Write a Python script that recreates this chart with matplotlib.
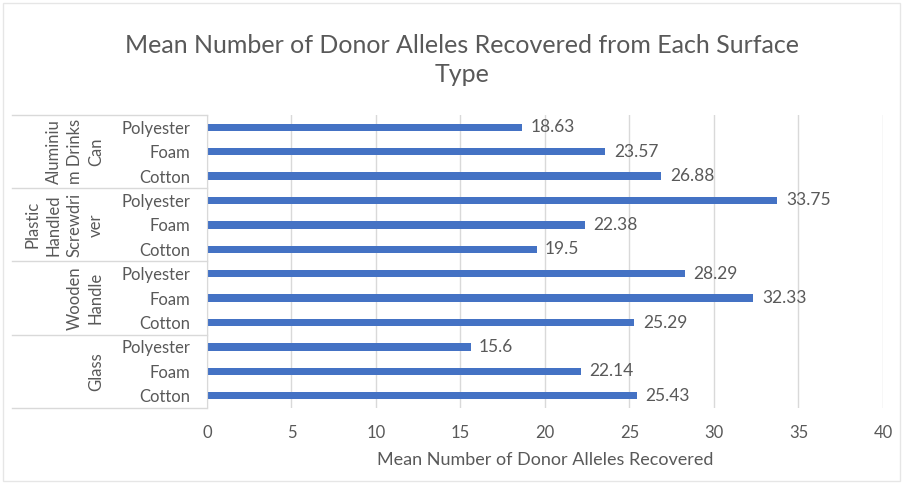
import numpy as np
import matplotlib.pyplot as plt
from matplotlib.transforms import blended_transform_factory

plt.rcParams['font.family'] = ['Lato', 'DejaVu Sans']

# bottom-to-top order, as drawn
groups = ['Glass', 'Wooden\nHandle', 'Plastic\nHandled\nScrewdri\nver', 'Aluminiu\nm Drinks\nCan']
materials = ['Cotton', 'Foam', 'Polyester']
values = [25.43, 22.14, 15.6,
          25.29, 32.33, 28.29,
          19.5, 22.38, 33.75,
          26.88, 23.57, 18.63]
tick_labels = materials * len(groups)

grey = '#595959'
fig = plt.figure(figsize=(9.03, 4.84), dpi=100)
ax = fig.add_axes([207/903, 1-408/484, (883-207)/903, (408-115)/484])

y = np.arange(len(values))
ax.barh(y, values, height=0.3, color='#4472C4')
for yi, v in zip(y, values):
    ax.text(v + 0.5, yi, f'{v:g}', va='center', ha='left', fontsize=12.5, color=grey)

ax.set_xlim(0, 40)
ax.set_ylim(-0.5, len(values) - 0.5)
ax.set_xticks(np.arange(0, 45, 5))
ax.set_yticks(y)
ax.set_yticklabels(tick_labels)
ax.tick_params(axis='both', length=0, labelsize=12, labelcolor=grey)
ax.tick_params(axis='y', pad=12)
ax.tick_params(axis='x', pad=12)
ax.xaxis.grid(True, color='#d9d9d9', linewidth=1)
ax.set_axisbelow(True)
for s in ['top', 'right', 'bottom']:
    ax.spines[s].set_visible(False)
ax.spines['left'].set_color('#d9d9d9')
ax.set_xlabel('Mean Number of Donor Alleles Recovered', fontsize=13, color=grey, labelpad=8)

# group boxes on the left
tr = blended_transform_factory(fig.transFigure, ax.transData)
x0, x1 = 12/903, 207/903
for b in np.arange(-0.5, len(values), 3):
    ax.plot([x0, x1], [b, b], transform=tr, color='#d9d9d9', lw=1, clip_on=False)
for i, g in enumerate(groups):
    ax.text(104/903, i*3 + 1, g, transform=tr, rotation=90, ha='right', va='center',
            multialignment='center', fontsize=12, color=grey, linespacing=1.4)

fig.text(0.512, 1-60/484, 'Mean Number of Donor Alleles Recovered from Each Surface\nType',
         ha='center', va='center', fontsize=18, color=grey, linespacing=1.35)

# faint outer frame
fig.add_artist(plt.Rectangle((3/903, 3/484), 1-6/903, 1-6/484, transform=fig.transFigure,
                             fill=False, edgecolor='#e6e6e6', lw=1))

fig.savefig('out.png', dpi=100)
